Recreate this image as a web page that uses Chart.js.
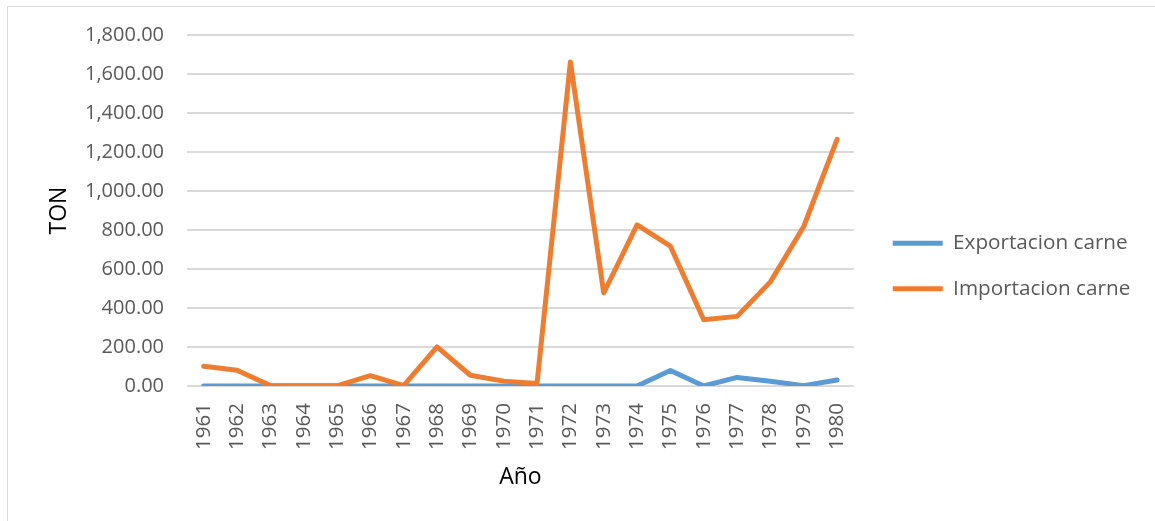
<!DOCTYPE html>
<html>
<head>
<meta charset="utf-8">
<script src="https://cdn.jsdelivr.net/npm/chart.js@4.4.1/dist/chart.umd.min.js"></script>
<style>
  html, body { margin: 0; padding: 0; background: #ffffff; overflow: hidden; }
  #frame { position: absolute; left: 7px; top: 6px; width: 1200px; height: 600px;
           border-left: 1px solid #d9d9d9; border-top: 1px solid #d9d9d9; }
  #wrap { position: absolute; left: 0; top: 0; width: 1155px; height: 521px; }
</style>
</head>
<body>
<div id="frame"></div>
<div id="wrap"><canvas id="c" width="1155" height="521"></canvas></div>
<script>
const years = ["1961","1962","1963","1964","1965","1966","1967","1968","1969","1970",
               "1971","1972","1973","1974","1975","1976","1977","1978","1979","1980"];
const exportacion = [0,0,0,0,0,0,0,0,0,0,0,0,0,0,80,0,44,24,2,31];
const importacion = [101,81,2,1,1,53,2,201,55,25,13,1662,477,826,717,340,357,534,818,1265];
const yTicksMin = 0, yTicksMax = 1800, yTicksStep = 200;
const seriesNames = ["Exportacion carne", "Importacion carne"];
const seriesColors = ["#5B9BD5", "#ED7D31"];

const FONT = "'Open Sans', 'Noto Sans', sans-serif";

const legendShift = {
  id: 'legendShift',
  afterLayout(chart) {
    const lg = chart.legend;
    if (lg) { lg.left += 14; lg.right += 14; lg.top -= 12; lg.bottom -= 12; }
  }
};

new Chart(document.getElementById('c'), {
  type: 'line',
  data: {
    labels: years,
    datasets: [
      { label: seriesNames[0], data: exportacion, borderColor: seriesColors[0], backgroundColor: seriesColors[0],
        borderWidth: 5, pointRadius: 0, pointHoverRadius: 0, tension: 0, fill: false,
        borderCapStyle: 'round', borderJoinStyle: 'round', order: 1 },
      { label: seriesNames[1], data: importacion, borderColor: seriesColors[1], backgroundColor: seriesColors[1],
        borderWidth: 5, pointRadius: 0, pointHoverRadius: 0, tension: 0, fill: false,
        borderCapStyle: 'round', borderJoinStyle: 'round', order: 0 }
    ]
  },
  options: {
    responsive: false,
    animation: false,
    layout: { padding: { left: 46, top: 35, right: 32, bottom: 0 } },
    plugins: {
      tooltip: { enabled: false },
      title: { display: false },
      legend: {
        position: 'right',
        align: 'center',
        labels: {
          usePointStyle: true,
          pointStyle: 'line',
          pointStyleWidth: 50,
          boxHeight: 5,
          padding: 25,
          color: '#595959',
          font: { family: FONT, size: 20.7 },
          sort: (a, b) => a.datasetIndex - b.datasetIndex
        }
      }
    },
    scales: {
      x: {
        type: 'category',
        offset: true,
        grid: { display: false, drawTicks: false },
        border: { display: false },
        ticks: { color: '#595959', font: { family: FONT, size: 20.5 }, minRotation: 90, maxRotation: 90, padding: 17, autoSkip: false },
        title: { display: true, text: 'Año', color: '#000000', font: { family: FONT, size: 23 }, padding: { top: 0, bottom: 30 } },
        afterFit(scale) { scale.height = 135; }
      },
      y: {
        min: yTicksMin, max: yTicksMax,
        grid: { color: '#d9d9d9', lineWidth: 2, drawTicks: false },
        border: { display: false },
        ticks: {
          stepSize: yTicksStep, color: '#595959', font: { family: FONT, size: 20 }, padding: 23,
          callback: v => Number(v).toLocaleString('en-US', { minimumFractionDigits: 2, maximumFractionDigits: 2 })
        },
        title: { display: true, text: 'TON', color: '#000000', font: { family: FONT, size: 23 }, padding: { top: 0, bottom: 0 } },
        afterFit(scale) { scale.width = 141; }
      }
    }
  },
  plugins: [legendShift]
});
</script>
</body>
</html>
